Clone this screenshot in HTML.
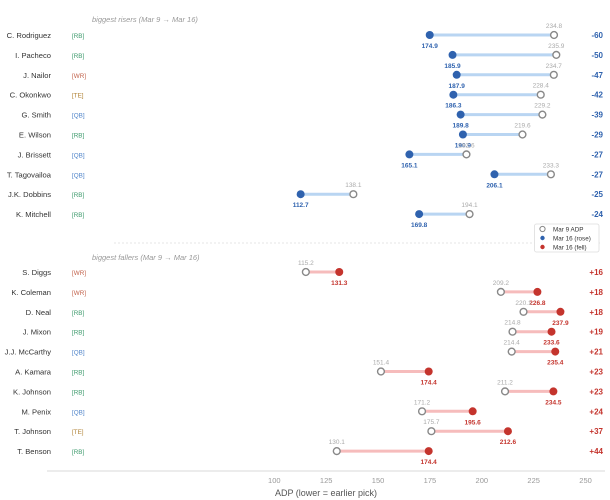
<!DOCTYPE html>
<html><head><meta charset="utf-8"><style>
body{margin:0;background:#fff;}
svg{display:block;font-family:"Liberation Sans","DejaVu Sans",sans-serif;}
</style></head><body>
<svg id="chart" width="610" height="500" viewBox="0 0 610 500"></svg>
<script>
const riserNames=["C. Rodriguez","I. Pacheco","J. Nailor","C. Okonkwo","G. Smith","E. Wilson","J. Brissett","T. Tagovailoa","J.K. Dobbins","K. Mitchell"];
const riserPos=["RB","RB","WR","TE","QB","RB","QB","QB","RB","RB"];
const riserOld=[234.8,235.9,234.7,228.4,229.2,219.6,192.6,233.3,138.1,194.1];
const riserNew=[174.9,185.9,187.9,186.3,189.8,190.9,165.1,206.1,112.7,169.8];
const fallerNames=["S. Diggs","K. Coleman","D. Neal","J. Mixon","J.J. McCarthy","A. Kamara","K. Johnson","M. Penix","T. Johnson","T. Benson"];
const fallerPos=["WR","WR","RB","RB","QB","RB","RB","QB","TE","RB"];
const fallerOld=[115.2,209.2,220.1,214.8,214.4,151.4,211.2,171.2,175.7,130.1];
const fallerNew=[131.3,226.8,237.9,233.6,235.4,174.4,234.5,195.6,212.6,174.4];
const xTicks=[100,125,150,175,200,225,250];

const svg=document.getElementById('chart');
const NS='http://www.w3.org/2000/svg';
const x=v=>66.8+2.075*v;
const posColor={RB:"#3d9a6c",WR:"#c2634c",TE:"#b08234",QB:"#4f84c9"};
function mk(tag,attrs,parent){const e=document.createElementNS(NS,tag);for(const k in attrs)e.setAttribute(k,attrs[k]);(parent||svg).appendChild(e);return e;}
function txt(s,attrs,parent){const e=mk('text',attrs,parent);e.textContent=s;return e;}

const ax=mk('g',{});


mk('line',{x1:47,x2:605,y1:471,y2:471,stroke:'#ececec','stroke-width':2},ax);
xTicks.forEach(t=>{
  const tl=txt(String(t),{x:x(t),y:483,'text-anchor':'middle','font-size':7.5,fill:'#999'},ax);
  
  
});
const at=txt('ADP  (lower = earlier pick)',{x:326,y:496,'text-anchor':'middle','font-size':9,fill:'#555','xml:space':'preserve'});



const t1=txt('biggest risers  (Mar 9 \u2192 Mar 16)',{x:92,y:22,'font-size':7.5,fill:'#999','font-style':'italic','xml:space':'preserve'});


const t2=txt('biggest fallers  (Mar 9 \u2192 Mar 16)',{x:92,y:260,'font-size':7.5,fill:'#999','font-style':'italic','xml:space':'preserve'});


const sep=mk('line',{x1:114,x2:600,y1:243,y2:243,stroke:'#ddd','stroke-width':0.8,'stroke-dasharray':'2,2'});



function drawGroup(names,pos,olds,news,y0,rose){
  const lineC=rose?'#b9d5f2':'#f6bcbc';
  const dotC=rose?'#2f62ae':'#c4342d';
  names.forEach((n,i)=>{
    const y=y0+i*19.9;
    const g=mk('g',{});
    
    
    const nl=txt(n,{x:51,y:y+3,'text-anchor':'end','font-size':7.6,fill:'#333'},g);
    
    
    const pl=txt('['+pos[i]+']',{x:72,y:y+3,'font-size':6.3,fill:posColor[pos[i]]},g);
    
    
    const xo=x(olds[i]),xn=x(news[i]);
    const ln=mk('line',{x1:xo,x2:xn,y1:y,y2:y,stroke:lineC,'stroke-width':3},g);
    
    
    const co=mk('circle',{cx:xo,cy:y,r:3.4,fill:'#fff',stroke:'#888','stroke-width':1.4},g);
    
    
    const cn=mk('circle',{cx:xn,cy:y,r:4,fill:dotC},g);
    
    
    const ol=txt(olds[i].toFixed(1),{x:xo,y:y-7,'text-anchor':'middle','font-size':6.5,fill:'#aaa'},g);
    
    
    const nv=txt(news[i].toFixed(1),{x:xn,y:y+13,'text-anchor':'middle','font-size':6.5,fill:dotC,'font-weight':'bold'},g);
    
    
    const d=Math.round(news[i]-olds[i]);
    const dl=txt((d>0?'+':'')+d,{x:603,y:y+3,'text-anchor':'end','font-size':8,fill:dotC,'font-weight':'bold'},g);
    
    
  });
}
drawGroup(riserNames,riserPos,riserOld,riserNew,35,true);
drawGroup(fallerNames,fallerPos,fallerOld,fallerNew,272,false);

const lg=mk('g',{});


mk('rect',{x:534.5,y:224,width:64.5,height:28,rx:2,fill:'#fff',stroke:'#ddd','stroke-width':0.8},lg);
const items=[['Mar 9 ADP','hollow'],['Mar 16 (rose)','#2f62ae'],['Mar 16 (fell)','#c4342d']];
items.forEach((it,i)=>{
  const yy=229+i*9;
  const e=mk('g',{},lg);
  
  
  if(it[1]==='hollow') mk('circle',{cx:542.5,cy:yy,r:2.6,fill:'#fff',stroke:'#888','stroke-width':1},e);
  else mk('circle',{cx:542.5,cy:yy,r:2.2,fill:it[1]},e);
  txt(it[0],{x:553,y:yy+2.3,'font-size':6.3,fill:'#333'},e);
});
</script>
</body></html>
